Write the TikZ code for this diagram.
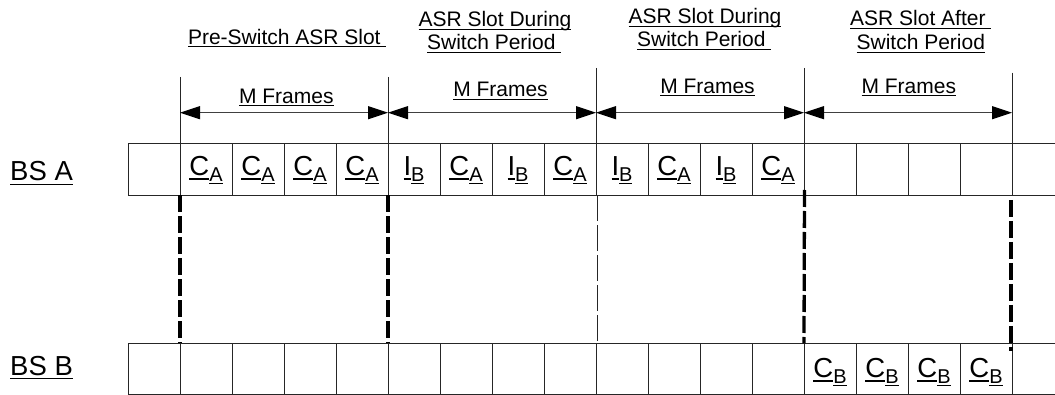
\documentclass[tikz,border=0pt]{standalone}
\usepackage{fontspec}
\setmainfont{Liberation Sans}
\usetikzlibrary{arrows.meta}

% underline drawn at a fixed distance below the baseline (crosses descenders)
\newcommand\ulword[1]{\setbox0=\hbox{#1}\rlap{\rule[-0.15em]{\wd0}{0.055em}}\box0}
% frame symbol: letter with an underlined, lowered subscript
\newcommand\cellsym[2]{{\fontsize{27.5}{27.5}\selectfont\ulword{#1}}\raisebox{-5.5pt}{\fontsize{20}{20}\selectfont\ulword{#2}}}
\newcommand\symCA{\cellsym{C}{A}}
\newcommand\symIB{\cellsym{I}{B}}
\newcommand\symCB{\cellsym{C}{B}}

\definecolor{linecol}{gray}{0.15}

\tikzset{
  gridline/.style={draw=linecol, line width=1pt},
  cellA/.style={gridline, minimum width=52pt, minimum height=52pt, inner sep=0pt,
    outer sep=0pt, anchor=north west, text height=19pt, text depth=6pt},
  cellB/.style={gridline, minimum width=52pt, minimum height=51.5pt, inner sep=0pt,
    outer sep=0pt, anchor=north west, text height=20pt, text depth=3pt},
  head/.style={font=\fontsize{21}{23}\selectfont, inner sep=0pt, anchor=base},
  station/.style={font=\fontsize{27.5}{29}\selectfont, inner sep=0pt, anchor=base west},
  span/.style={draw=black!75, line width=1pt,
    {Triangle[length=20pt,width=13pt,color=black]}-{Triangle[length=20pt,width=13pt,color=black]}},
  dashthick/.style={draw=black, line width=3.3pt, dash pattern=on 17pt off 4pt},
  dashthin/.style={draw=black!85, line width=1pt, dash pattern=on 26pt off 4pt},
}

\begin{document}
\begin{tikzpicture}[x=1pt,y=-1pt]
\useasboundingbox (0,0) rectangle (1055,395);

% slot headings
\node[head] (h1)  at (287.2,44.3) {\ulword{Pre-Switch ASR Slot\ }};
\node[head] (h2a) at (495,27)     {\ulword{ASR Slot During}};
\node[head] (h2b) at (494.2,50)   {\ulword{Switch Period\ }};
\node[head] (h3a) at (705,24)     {\ulword{ASR Slot During}};
\node[head] (h3b) at (704.2,47)   {\ulword{Switch Period\ }};
\node[head] (h4a) at (920.8,26)   {\ulword{ASR Slot After\ }};
\node[head] (h4b) at (920.8,50)   {\ulword{Switch Period}};

% span labels
\node[head] (m1) at (286.3,103.3) {\ulword{M Frames}};
\node[head] (m2) at (500.5,96.7)  {\ulword{M Frames}};
\node[head] (m3) at (707.5,93.3)  {\ulword{M Frames}};
\node[head] (m4) at (908.8,93.3)  {\ulword{M Frames}};

% station labels
\node[station] (bsa) at (10,181) {\ulword{BS A}};
\node[station] (bsb) at (10,375) {\ulword{BS B}};

% frame rows
\foreach \c [count=\k from 0] in {{},\symCA,\symCA,\symCA,\symCA,\symIB,\symCA,\symIB,\symCA,\symIB,\symCA,\symIB,\symCA,{},{},{},{}}
  \node[cellA] (A\k) at (128+52*\k,143.3) {\c};
\foreach \c [count=\k from 0] in {{},{},{},{},{},{},{},{},{},{},{},{},{},\symCB,\symCB,\symCB,\symCB}
  \node[cellB] (B\k) at (128+52*\k,343.3) {\c};

% rows continue past the last full frame
\coordinate (Aend1) at (1056,143.3);
\coordinate (Aend2) at (1056,195.3);
\coordinate (Bend1) at (1056,343.3);
\coordinate (Bend2) at (1056,394.8);
\draw[gridline] (A16.north east) -- (Aend1);
\draw[gridline] (A16.south east) -- (Aend2);
\draw[gridline] (B16.north east) -- (Bend1);
\draw[gridline] (B16.south east) -- (Bend2);

% slot boundaries above row A
\coordinate (t0) at (180,77);
\coordinate (t1) at (388,77);
\coordinate (t2) at (596,68);
\coordinate (t3) at (804,68);
\coordinate (t4) at (1012,72.7);
\draw[gridline] (t0) -- (A1.north west);
\draw[gridline] (t1) -- (A5.north west);
\draw[gridline] (t2) -- (A9.north west);
\draw[gridline] (t3) -- (A13.north west);
\draw[gridline] (t4) -- (A16.north east);

% M-frame spans
\coordinate (a0) at (180,112.7);
\coordinate (a1) at (388,112.7);
\coordinate (a2) at (596,112.7);
\coordinate (a3) at (804,112.7);
\coordinate (a4) at (1012,112.7);
\draw[span] (a0) -- (a1);
\draw[span] (a1) -- (a2);
\draw[span] (a2) -- (a3);
\draw[span] (a3) -- (a4);

% alignment between the two stations
\coordinate (d2a) at (597.5,195.3);
\coordinate (d2b) at (597.5,343.3);
\coordinate (d3a) at (804.5,190);
\coordinate (d4a) at (1011,200);
\coordinate (d4b) at (1011,351);
\draw[dashthick] (A1.south west) -- (B1.north west);
\draw[dashthick] (A5.south west) -- (B5.north west);
\draw[dashthin] (d2a) -- (d2b);
\draw[dashthick] (d3a) -- (B13.north west);
\draw[dashthick] (d4a) -- (d4b);
\end{tikzpicture}
\end{document}
